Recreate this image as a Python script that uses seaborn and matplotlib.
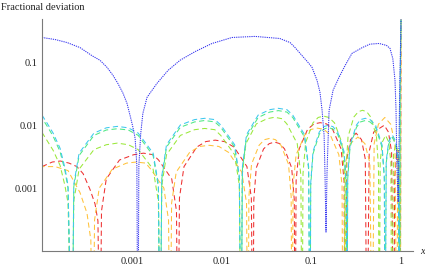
import matplotlib

matplotlib.use("Agg")
import matplotlib.pyplot as plt
import numpy as np
import pandas as pd
import seaborn as sns
from matplotlib.ticker import LogLocator, NullFormatter

# deviation that is exactly zero (drawn below the bottom of the log axis)
Z = 1e-6

blue_x = [1e-4, 1.40e-4, 1.90e-4, 2.65e-4, 3.60e-4, 4.43e-4, 5.3e-4, 6.18e-4, 7.0e-4, 8.0e-4,
          8.85e-4, 9.57e-4, 1.03e-3, 1.09e-3, 1.14e-3, 1.17e-3,
          1.20e-3, 1.26e-3, 1.33e-3, 1.48e-3, 1.91e-3, 2.54e-3, 3.45e-3, 5.1e-3, 7.84e-3, 1.31e-2,
          2.36e-2, 4.46e-2, 5.8e-2, 6.6e-2, 7.9e-2, 9.2e-2, 0.102, 0.116, 0.125, 0.132, 0.139,
          0.142, 0.146,
          0.150, 0.158, 0.175, 0.204, 0.238, 0.284, 0.37, 0.45, 0.571, 0.69, 0.754, 0.81,
          0.857, 0.88, 0.90, 0.93, 0.97, 1.0]
blue_y = [0.249, 0.231, 0.207, 0.172, 0.128, 0.108, 0.0834, 0.0622, 0.0464, 0.0322,
          0.0223, 0.0144, 0.0093, 0.0062, 0.0023, Z,
          0.0023, 0.0075, 0.0155, 0.0278, 0.0464, 0.0747, 0.108, 0.149, 0.200, 0.249,
          0.259, 0.24, 0.207, 0.172, 0.128, 0.1, 0.0834, 0.0518, 0.0335, 0.0173, 0.0069,
          0.0019, 2e-4,
          0.0019, 0.0173, 0.036, 0.0578, 0.089, 0.139, 0.172, 0.195, 0.200, 0.186, 0.167, 0.115,
          0.0518, 0.0173, 0.0023, 0.0006, 0.05, 0.48]

cyan_x = [1e-4, 1.14e-4, 1.33e-4, 1.59e-4, 1.8e-4, 1.95e-4, 2.16e-4,
          2.26e-4, 2.59e-4, 3.79e-4, 5.2e-4, 6.9e-4, 9.16e-4, 1.18e-3, 1.73e-3, 1.98e-3, 2.07e-3,
          2.16e-3, 2.44e-3, 3.48e-3, 5.01e-3, 6.5e-3, 8.43e-3, 9.8e-3, 1.40e-2, 1.58e-2, 1.65e-2,
          1.71e-2, 1.90e-2, 2.56e-2, 3.44e-2, 4.3e-2, 5.36e-2, 6.22e-2, 8.41e-2, 9.35e-2, 9.69e-2,
          0.0986, 0.1045, 0.1228, 0.1375, 0.155, 0.1746, 0.197, 0.232, 0.2455, 0.25,
          0.2547, 0.2704, 0.319, 0.354, 0.40, 0.452, 0.52, 0.614, 0.652, 0.664,
          0.684, 0.728, 0.80, 0.875, 0.931, 0.96,
          0.975, 0.99, 1.0]
cyan_y = [0.0145, 0.0108, 0.0075, 0.0043, 0.0021, 0.0011, Z,
          0.00115, 0.0036, 0.0075, 0.0091, 0.0096, 0.0091, 0.0075, 0.0036, 0.00115, Z,
          0.00155, 0.0049, 0.0101, 0.0123, 0.0129, 0.0123, 0.0101, 0.0049, 0.00155, Z,
          0.0022, 0.0071, 0.0145, 0.0177, 0.0186, 0.0177, 0.0145, 0.0071, 0.0022, Z,
          0.0012, 0.0038, 0.0078, 0.0095, 0.010, 0.0095, 0.0078, 0.0038, 0.0012, Z,
          0.00155, 0.0049, 0.0101, 0.0123, 0.0129, 0.0123, 0.0101, 0.0049, 0.00155, Z,
          0.0027, 0.0055, 0.007, 0.0055, 0.0027, Z,
          0.03, 0.15, 0.48]
aqua_y = [0.013, 0.0097, 0.0067, 0.0038, 0.0019, 0.001, Z,
          0.00105, 0.0033, 0.0069, 0.0084, 0.0088, 0.0084, 0.0069, 0.0033, 0.00105, Z,
          0.0014, 0.0045, 0.0093, 0.0113, 0.0119, 0.0113, 0.0093, 0.0045, 0.0014, Z,
          0.002, 0.0065, 0.0133, 0.0162, 0.0171, 0.0162, 0.0133, 0.0065, 0.002, Z,
          0.0011, 0.0035, 0.0072, 0.0087, 0.0092, 0.0087, 0.0072, 0.0035, 0.0011, Z,
          0.0014, 0.0045, 0.0093, 0.0113, 0.0119, 0.0113, 0.0093, 0.0045, 0.0014, Z,
          0.0025, 0.005, 0.0064, 0.005, 0.0025, Z,
          0.03, 0.15, 0.48]

lime_x = [1e-4, 1.14e-4, 1.33e-4, 1.59e-4, 1.8e-4, 1.95e-4, 2.16e-4,
          2.26e-4, 2.59e-4, 3.79e-4, 5.2e-4, 6.9e-4, 9.16e-4, 1.18e-3, 1.73e-3, 1.98e-3, 2.07e-3,
          2.16e-3, 2.44e-3, 3.48e-3, 5.01e-3, 6.5e-3, 8.43e-3, 9.8e-3, 1.40e-2, 1.58e-2, 1.65e-2,
          1.70e-2, 1.87e-2, 2.44e-2, 3.21e-2, 3.9e-2, 4.74e-2, 5.35e-2, 6.98e-2, 7.66e-2, 7.9e-2,
          0.0809, 0.0865, 0.1043, 0.1194, 0.137, 0.1574, 0.1816, 0.2193, 0.2344, 0.24,
          0.2443, 0.257, 0.298, 0.334, 0.372, 0.415, 0.460, 0.533, 0.561, 0.571,
          0.586, 0.619, 0.673, 0.730, 0.771, 0.79,
          0.824, 0.879, 0.935, 0.975,
          0.99, 1.0]
lime_y = [0.0077, 0.0057, 0.004, 0.0023, 0.0011, 0.00058, Z,
          0.00062, 0.002, 0.0041, 0.0049, 0.0052, 0.0049, 0.0041, 0.002, 0.00062, Z,
          0.0011, 0.0034, 0.0069, 0.0085, 0.0089, 0.0085, 0.0069, 0.0034, 0.0011, Z,
          0.0016, 0.0051, 0.0105, 0.0127, 0.0134, 0.0127, 0.0105, 0.0051, 0.0016, Z,
          0.0017, 0.0053, 0.0109, 0.0133, 0.014, 0.0133, 0.0109, 0.0053, 0.0017, Z,
          0.0021, 0.0066, 0.0135, 0.0164, 0.0173, 0.0164, 0.0135, 0.0066, 0.0021, Z,
          0.0026, 0.0054, 0.0069, 0.0054, 0.0026, Z,
          0.0035, 0.005, 0.0035, Z,
          0.12, 0.48]

orange_x = [1e-4, 1.4e-4, 1.95e-4, 2.22e-4, 2.65e-4, 3.17e-4, 3.5e-4, 3.7e-4,
            3.85e-4, 4.34e-4, 6.07e-4, 8.75e-4, 1.12e-3, 1.43e-3, 1.63e-3, 2.28e-3, 2.57e-3, 2.67e-3,
            2.78e-3, 3.13e-3, 4.41e-3, 5.69e-3, 7.3e-3, 9.35e-3, 1.20e-2, 1.68e-2, 1.90e-2, 1.97e-2,
            2.02e-2, 2.16e-2, 2.62e-2, 3.01e-2, 3.47e-2, 3.99e-2, 4.60e-2, 5.58e-2, 5.97e-2, 6.11e-2,
            0.0627, 0.0678, 0.0847, 0.0998, 0.1175, 0.1384, 0.163, 0.203, 0.2203, 0.226,
            0.240, 0.272, 0.331, 0.396, 0.450, 0.477,
            0.502, 0.560, 0.66, 0.767, 0.855, 0.90,
            0.915, 0.94, 0.965, 0.985,
            1.0]
orange_y = [0.0022, 0.0022, 0.0019, 0.00135, 0.00085, 0.0004, 0.00015, Z,
            0.00031, 0.001, 0.002, 0.0025, 0.0026, 0.0025, 0.002, 0.001, 0.00031, Z,
            0.00058, 0.0018, 0.0037, 0.0046, 0.0048, 0.0046, 0.0037, 0.0018, 0.00058, Z,
            0.00074, 0.0024, 0.0048, 0.0059, 0.0062, 0.0059, 0.0048, 0.0024, 0.00074, Z,
            0.0011, 0.0034, 0.007, 0.0086, 0.009, 0.0086, 0.007, 0.0034, 0.0011, Z,
            0.0025, 0.0051, 0.0065, 0.0051, 0.0025, Z,
            0.0051, 0.0104, 0.0133, 0.0104, 0.0051, Z,
            0.0015, 0.004, 0.0015, Z,
            0.48]

red_x = [1e-4, 1.3e-4, 1.6e-4, 2.0e-4, 2.45e-4, 2.87e-4, 3.42e-4, 3.9e-4, 4.2e-4, 4.43e-4,
         4.6e-4, 5.2e-4, 7.3e-4, 1.05e-3, 1.35e-3, 1.73e-3, 1.99e-3, 2.79e-3, 3.15e-3, 3.27e-3,
         3.40e-3, 3.82e-3, 5.30e-3, 6.68e-3, 8.5e-3, 1.08e-2, 1.38e-2, 1.92e-2, 2.15e-2, 2.24e-2,
         2.29e-2, 2.44e-2, 2.94e-2, 3.40e-2, 3.9e-2, 4.47e-2, 5.04e-2, 6.05e-2, 6.47e-2, 6.6e-2,
         0.0678, 0.0733, 0.091, 0.107, 0.126, 0.148, 0.173, 0.215, 0.232, 0.238,
         0.249, 0.274, 0.316, 0.363, 0.40, 0.418,
         0.442, 0.496, 0.65, 0.724, 0.785, 0.83,
         0.85, 0.9, 0.95, 0.98,
         1.0]
red_y = [0.0022, 0.0026, 0.0027, 0.0025, 0.0022, 0.0017, 0.00096, 0.00056, 0.0003, Z,
         0.00043, 0.0014, 0.0028, 0.0034, 0.0036, 0.0034, 0.0028, 0.0014, 0.00043, Z,
         0.0007, 0.0022, 0.0045, 0.0055, 0.0058, 0.0055, 0.0045, 0.0022, 0.0007, Z,
         0.00065, 0.0021, 0.0042, 0.0051, 0.0054, 0.0051, 0.0042, 0.0021, 0.00065, Z,
         0.0013, 0.0042, 0.0086, 0.0105, 0.011, 0.0105, 0.0086, 0.0042, 0.0013, Z,
         0.0029, 0.0059, 0.0075, 0.0059, 0.0029, Z,
         0.0038, 0.0078, 0.010, 0.0078, 0.0038, Z,
         0.0015, 0.004, 0.0015, Z,
         0.48]

x_ticks = [1e-3, 1e-2, 1e-1, 1.0]
x_tick_labels = ["0.001", "0.01", "0.1", "1"]
y_ticks = [1e-3, 1e-2, 1e-1]
y_tick_labels = ["0.001", "0.01", "0.1"]

sns.set_style("white")
plt.rcParams["font.family"] = ["Liberation Serif", "DejaVu Serif"]

dash = (0, (5.0, 3.2))
series = [
    (red_x, red_y, "#ee3030", dash),
    (orange_x, orange_y, "#ffc23a", (2.5, (5.0, 3.2))),
    (lime_x, lime_y, "#9ae83a", dash),
    (cyan_x, aqua_y, "#4ee882", (3.5, (5.0, 3.2))),
    (cyan_x, cyan_y, "#3cc8ee", dash),
    (blue_x, blue_y, "#3434f0", (0, (1.2, 0.9))),
]

fig = plt.figure(figsize=(4.25, 2.69), dpi=100)
ax = fig.add_axes([42 / 425, 18 / 269, 371 / 425, 232 / 269])
ax.set_xscale("log")
ax.set_yscale("log")
for xs, ys, color, style in series:
    sns.lineplot(x=xs, y=ys, ax=ax, color=color, linewidth=0.75,
                 linestyle=style, estimator=None, sort=False)

ax.set_xlim(1e-4, 1.36)
ax.set_ylim(1e-4, 0.49)

for side in ("top", "right"):
    ax.spines[side].set_visible(False)
for side in ("left", "bottom"):
    ax.spines[side].set_color("#7a7a7a")
    ax.spines[side].set_linewidth(0.8)

ax.set_xticks(x_ticks, x_tick_labels)
ax.set_yticks(y_ticks, y_tick_labels)
ax.xaxis.set_minor_locator(LogLocator(base=10, subs=np.arange(2, 10)))
ax.yaxis.set_minor_locator(LogLocator(base=10, subs=np.arange(2, 10)))
ax.xaxis.set_minor_formatter(NullFormatter())
ax.yaxis.set_minor_formatter(NullFormatter())
ax.tick_params(which="both", direction="in", color="#7a7a7a", width=0.6,
               labelsize=7.5, labelcolor="#222222")
ax.tick_params(which="major", length=3.2)
ax.tick_params(which="minor", length=1.6)
ax.tick_params(axis="x", pad=4)
ax.tick_params(axis="y", pad=3)
ax.set_xlabel("")
ax.set_ylabel("")

fig.text(0.002, 1 - 7 / 269, "Fractional deviation", fontsize=7.5,
         ha="left", va="center", color="#222222")
fig.text(422 / 425, 1 - 252 / 269, "x", fontsize=7.5, style="italic",
         ha="center", va="center", color="#222222")

fig.savefig("out.png", dpi=100)
plt.close(fig)
